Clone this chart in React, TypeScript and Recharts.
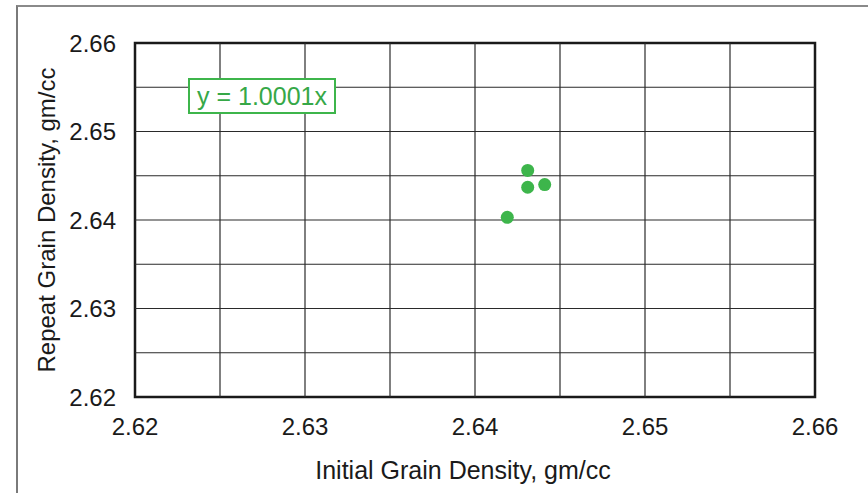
import React from "react";
import {
  ScatterChart,
  Scatter,
  XAxis,
  YAxis,
  ReferenceLine,
  ReferenceArea,
  Label,
} from "recharts";

// Grain density: initial measurement vs. repeat measurement (gm/cc)
const initialDensity = [2.6431, 2.6431, 2.6441, 2.6419];
const repeatDensity = [2.6456, 2.6437, 2.644, 2.6403];

const axisTicks = [2.62, 2.63, 2.64, 2.65, 2.66];
const gridValues = [2.625, 2.63, 2.635, 2.64, 2.645, 2.65, 2.655];
const domain: [number, number] = [2.62, 2.66];

const trendLabel = "y = 1.0001x";
const xTitle = "Initial Grain Density, gm/cc";
const yTitle = "Repeat Grain Density, gm/cc";

const points = initialDensity.map((x, i) => ({ x, y: repeatDensity[i] }));

const FONT = "'Liberation Sans', Arial, Helvetica, sans-serif";
const GREEN = "#3db54b";

const Dot = (props: any) => (
  <circle cx={props.cx} cy={props.cy} r={6.5} fill={GREEN} />
);

export default function App() {
  return (
    <div
      style={{
        position: "absolute",
        left: 0,
        top: 0,
        width: 868,
        height: 493,
        background: "#fff",
        fontFamily: FONT,
        overflow: "hidden",
      }}
    >
      <div
        style={{
          position: "absolute",
          left: 16,
          top: 5,
          width: 860,
          height: 500,
          borderLeft: "2px solid #7a7a7a",
          borderTop: "2px solid #8a8a8a",
        }}
      />
      <ScatterChart
        width={868}
        height={493}
        margin={{ top: 43, right: 53, bottom: 0, left: 20 }}
        style={{ position: "absolute", left: 0, top: 0 }}
      >
        <XAxis
          type="number"
          dataKey="x"
          domain={domain}
          ticks={axisTicks}
          allowDataOverflow
          interval={0}
          tickFormatter={(v: number) => v.toFixed(2)}
          axisLine={false}
          tickLine={false}
          tickSize={0}
          tickMargin={21}
          height={96}
          tick={{ fill: "#1a1a1a", fontSize: 24, fontFamily: FONT }}
        >
          <Label
            content={({ viewBox }: any) => (
              <text
                x={463}
                y={viewBox.y + 82}
                textAnchor="middle"
                fill="#1a1a1a"
                fontSize={25}
                fontFamily={FONT}
              >
                {xTitle}
              </text>
            )}
          />
        </XAxis>
        <YAxis
          type="number"
          dataKey="y"
          domain={domain}
          ticks={axisTicks}
          allowDataOverflow
          interval={0}
          tickFormatter={(v: number) => v.toFixed(2)}
          axisLine={false}
          tickLine={false}
          tickSize={0}
          tickMargin={19}
          width={115}
          tick={{ fill: "#1a1a1a", fontSize: 24, fontFamily: FONT }}
        >
          <Label
            content={({ viewBox }: any) => {
              const cx = 46;
              const cy = viewBox.y + viewBox.height / 2;
              return (
                <text
                  x={cx}
                  y={cy}
                  transform={`rotate(-90, ${cx}, ${cy})`}
                  textAnchor="middle"
                  dominantBaseline="central"
                  fill="#1a1a1a"
                  fontSize={24}
                  fontFamily={FONT}
                >
                  {yTitle}
                </text>
              );
            }}
          />
        </YAxis>
        {gridValues.map((v) => (
          <ReferenceLine
            key={`gx-${v}`}
            x={v}
            stroke="#2a2a2a"
            strokeWidth={1.2}
            ifOverflow="extendDomain"
          />
        ))}
        {gridValues.map((v) => (
          <ReferenceLine
            key={`gy-${v}`}
            y={v}
            stroke="#2a2a2a"
            strokeWidth={1.2}
            ifOverflow="extendDomain"
          />
        ))}
        <ReferenceArea
          x1={domain[0]}
          x2={domain[1]}
          y1={domain[0]}
          y2={domain[1]}
          fill="none"
          fillOpacity={0}
          stroke="#1a1a1a"
          strokeWidth={2.5}
          ifOverflow="visible"
        />
        <Scatter
          data={points}
          shape={Dot}
          isAnimationActive={false}
        />
      </ScatterChart>
      <div
        style={{
          position: "absolute",
          left: 188,
          top: 78,
          width: 144,
          height: 32,
          border: `2px solid ${GREEN}`,
          background: "#fff",
          color: "#36a847",
          fontSize: 25,
          fontFamily: FONT,
          lineHeight: "32px",
          textAlign: "center",
          whiteSpace: "nowrap",
        }}
      >
        {trendLabel}
      </div>
    </div>
  );
}
